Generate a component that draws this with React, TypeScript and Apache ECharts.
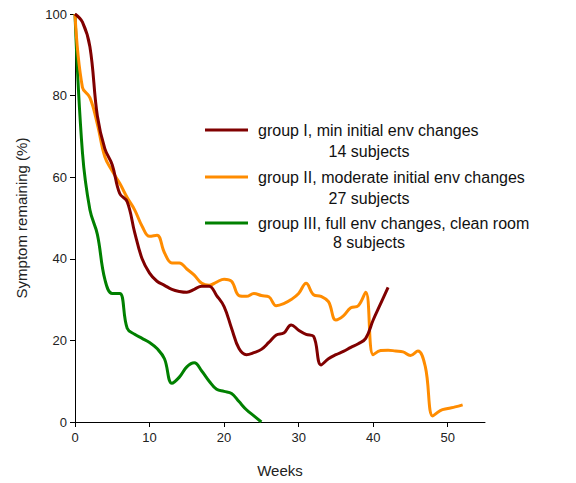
import React, { useEffect, useRef } from "react";
import * as echarts from "echarts";

const groupNames = [
  "group I, min initial env changes",
  "group II, moderate initial env changes",
  "group III, full env changes, clean room",
];
const groupSubjects = ["14 subjects", "27 subjects", "8 subjects"];

// values by week (week = index)
const group1 = [
  100, 98, 92, 75, 67, 63, 56, 54, 46.5, 40, 36.5, 34.5, 33.5, 32.5, 32, 31.8, 32.5, 33.3, 33.3, 31,
  28.3, 23, 18, 16.5, 17, 17.8, 19.5, 21.3, 21.8, 23.8, 22.5, 21.5, 21, 14, 15.5, 16.5, 17.3, 18.3,
  19.2, 20.5, 25, 29, 33,
];
const group2 = [
  100, 82, 79.5, 73, 65, 61.5, 58.5, 55, 52, 48, 45.5, 45.8, 41.5, 39, 39, 37.5, 36, 34, 33.5, 34.3,
  35, 34.5, 31, 30.8, 31.5, 31, 30.7, 28.5, 29, 30, 31.5, 34, 31.2, 30.8, 29.5, 25, 26, 28, 28.5,
  31.8, 16.5, 17.5, 17.6, 17.4, 17.2, 16.3, 17.4, 13.5, 1.5, 2.8, 3.3, 3.7, 4.2,
];
const group3 = [
  100, 66, 52, 46, 35, 31.5, 31.5, 23, 21.5, 20.5, 19.5, 18, 15.5, 9.5, 11, 13.5, 14.5, 12.5, 10, 8,
  7.5, 7, 5, 3, 1.5, 0,
];
const colors = ["#800000", "#FF8C00", "#008000"];

const xTicks = { min: 0, max: 55, interval: 10 };
const yTicks = { min: 0, max: 100, interval: 20 };

const toPairs = (vals: number[]) => vals.map((v, i) => [i, v]);

export default function App() {
  const ref = useRef<HTMLDivElement>(null);
  useEffect(() => {
    document.body.style.margin = "0";
    if (!ref.current) return;
    const chart = echarts.init(ref.current, null, { renderer: "svg" });
    const font = "Liberation Sans, Arial, sans-serif";
    const allVals = [group1, group2, group3];
    const legendIconY = [130, 177, 223];
    const subjectY = [151, 198, 242];
    chart.setOption({
      animation: false,
      textStyle: { fontFamily: font },
      grid: { left: 75, right: 91, top: 14, bottom: 56, containLabel: false },
      legend: groupNames.map((name, i) => ({
        left: 205,
        top: legendIconY[i] - 10,
        orient: "vertical",
        padding: 0,
        icon: "rect",
        itemWidth: 43,
        itemHeight: 3,
        data: [name],
        textStyle: {
          fontFamily: font,
          fontSize: 16,
          color: "#111",
          lineHeight: 20,
          padding: [0, 0, 0, 5],
        },
      })),
      graphic: groupSubjects.map((s, i) => ({
        type: "text",
        x: 369,
        y: subjectY[i],
        style: {
          text: s,
          fontFamily: font,
          fontSize: 16,
          fill: "#111",
          textAlign: "center",
          textVerticalAlign: "middle",
        },
      })),
      xAxis: {
        type: "value",
        min: xTicks.min,
        max: xTicks.max,
        interval: xTicks.interval,
        name: "Weeks",
        nameLocation: "middle",
        nameGap: 41,
        nameTextStyle: { fontFamily: font, fontSize: 15, color: "#222" },
        axisLine: { lineStyle: { color: "#000", width: 1 } },
        axisTick: { show: true, length: 5, lineStyle: { color: "#000" } },
        axisLabel: { fontFamily: font, fontSize: 13, color: "#222", margin: 9, showMaxLabel: false },
        splitLine: { show: false },
      },
      yAxis: {
        type: "value",
        min: yTicks.min,
        max: yTicks.max,
        interval: yTicks.interval,
        name: "Symptom remaining (%)",
        nameLocation: "middle",
        nameGap: 46,
        nameTextStyle: { fontFamily: font, fontSize: 15, color: "#222" },
        axisLine: { show: true, lineStyle: { color: "#000", width: 1 } },
        axisTick: { show: true, length: 5, lineStyle: { color: "#000" } },
        axisLabel: { fontFamily: font, fontSize: 13, color: "#222", margin: 8 },
        splitLine: { show: false },
      },
      series: groupNames.map((name, i) => ({
        name,
        type: "line",
        data: toPairs(allVals[i]),
        smooth: 0.4,
        showSymbol: false,
        symbol: "none",
        lineStyle: { color: colors[i], width: 3 },
        itemStyle: { color: colors[i] },
        z: 3 - i,
      })),
    });
    return () => chart.dispose();
  }, []);
  return <div ref={ref} style={{ width: 576, height: 483 }} />;
}
